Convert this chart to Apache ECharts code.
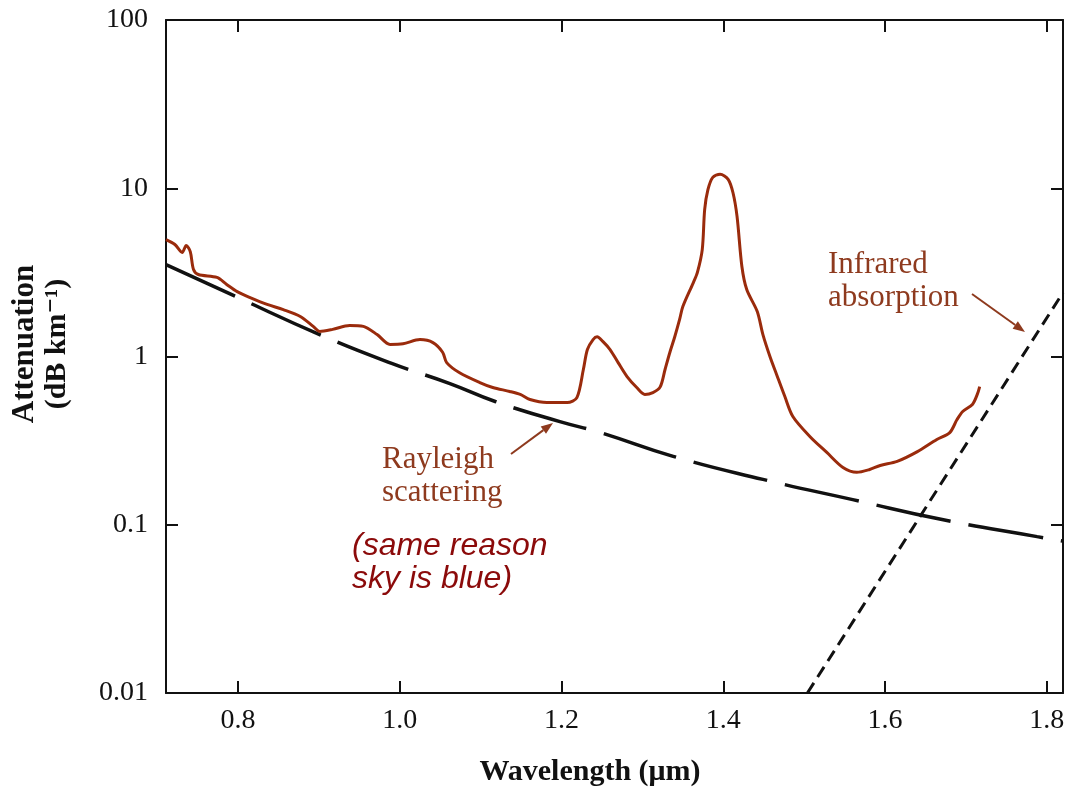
<!DOCTYPE html>
<html>
<head>
<meta charset="utf-8">
<title>Fibre attenuation</title>
<script src="https://cdn.jsdelivr.net/npm/echarts@6/dist/echarts.min.js"></script>
<style>
  html, body { margin: 0; padding: 0; background: #fff; }
  #chart { width: 1090px; height: 787px; }
</style>
</head>
<body>
<div id="chart"></div>
<script>
// measured loss of a silica fibre: [wavelength (um), attenuation (dB/km)]
const measured = [
  [0.711, 4.95], [0.722, 4.63], [0.731, 4.15], [0.736, 4.57], [0.741, 4.2],
  [0.745, 3.29], [0.751, 3.07], [0.774, 2.95], [0.786, 2.68], [0.799, 2.43],
  [0.815, 2.24], [0.836, 2.04], [0.856, 1.90], [0.877, 1.73], [0.893, 1.51],
  [0.901, 1.41], [0.917, 1.45], [0.938, 1.53], [0.955, 1.51], [0.972, 1.35],
  [0.988, 1.18], [1.004, 1.19], [1.025, 1.26], [1.041, 1.21], [1.053, 1.06],
  [1.058, 0.92], [1.074, 0.80], [1.099, 0.70], [1.115, 0.654], [1.136, 0.62],
  [1.149, 0.595], [1.161, 0.555], [1.182, 0.533], [1.207, 0.533], [1.219, 0.57],
  [1.227, 0.837], [1.232, 1.10], [1.239, 1.26], [1.244, 1.31], [1.251, 1.23],
  [1.260, 1.10], [1.270, 0.92], [1.281, 0.76], [1.293, 0.654], [1.303, 0.595],
  [1.313, 0.61], [1.322, 0.66], [1.328, 0.837], [1.334, 1.06], [1.340, 1.31],
  [1.346, 1.66], [1.350, 1.98], [1.363, 2.75], [1.368, 3.16], [1.374, 4.32],
  [1.377, 7.48], [1.381, 9.8], [1.387, 11.6], [1.396, 12.1], [1.406, 11.3],
  [1.412, 9.4], [1.417, 6.8], [1.423, 3.43], [1.429, 2.5], [1.442, 1.85],
  [1.449, 1.35], [1.458, 0.99], [1.466, 0.78], [1.476, 0.58], [1.486, 0.44],
  [1.507, 0.335], [1.528, 0.269], [1.548, 0.219], [1.565, 0.205], [1.581, 0.213],
  [1.594, 0.225], [1.615, 0.238], [1.640, 0.272], [1.664, 0.321], [1.680, 0.353],
  [1.689, 0.422], [1.696, 0.471], [1.708, 0.519], [1.714, 0.595], [1.717, 0.663]
];

// Rayleigh scattering limit (long dashes)
const rayleigh = [
  [0.711, 3.52], [0.8, 2.24], [0.901, 1.35], [0.99, 0.91], [1.062, 0.69],
  [1.118, 0.54], [1.198, 0.41], [1.248, 0.353], [1.338, 0.255], [1.449, 0.186],
  [1.56, 0.141], [1.672, 0.107], [1.788, 0.085], [1.82, 0.080]
];

// infrared absorption tail (short dashes)
const infrared = [[1.504, 0.01], [1.82, 2.4]];

const yTickLabels = ['0.01', '0.1', '1', '10', '100'];

const serif = '"Liberation Serif", "DejaVu Serif", serif';
const curveRed = '#9a2b0c';
const noteBrown = '#8e3a1e';

function arrow(x1, y1, x2, y2, color) {
  const a = Math.atan2(y2 - y1, x2 - x1);
  const len = 12, w = 4.5;
  const bx = x2 - len * Math.cos(a), by = y2 - len * Math.sin(a);
  return {
    type: 'group',
    children: [
      { type: 'line', shape: { x1: x1, y1: y1, x2: bx, y2: by }, style: { stroke: color, lineWidth: 2 } },
      { type: 'polygon', shape: { points: [
          [x2, y2],
          [bx + w * Math.sin(a), by - w * Math.cos(a)],
          [bx - w * Math.sin(a), by + w * Math.cos(a)]
        ] }, style: { fill: color } }
    ]
  };
}

const chart = echarts.init(document.getElementById('chart'));

const axisBox = {
  axisLine: { show: true, lineStyle: { color: '#111', width: 2 } },
  axisTick: { show: true, inside: true, length: 12, lineStyle: { color: '#111', width: 2 } },
  splitLine: { show: false },
  minorTick: { show: false }
};

const option = {
  backgroundColor: '#fff',
  animation: false,
  grid: { left: 166, right: 27, top: 20, bottom: 94 },
  xAxis: [
    Object.assign({
      type: 'value', min: 0.711, max: 1.82, position: 'bottom',
      axisLabel: {
        show: true, margin: 14, fontFamily: serif, fontSize: 28, color: '#111',
        showMinLabel: false, showMaxLabel: false,
        formatter: v => v.toFixed(1)
      }
    }, axisBox),
    Object.assign({
      type: 'value', min: 0.711, max: 1.82, position: 'top',
      axisLabel: { show: false }
    }, axisBox)
  ],
  yAxis: [
    Object.assign({
      type: 'log', logBase: 10, min: 0.01, max: 100, position: 'left',
      axisLabel: {
        show: true, margin: 18, fontFamily: serif, fontSize: 28, color: '#111',
        formatter: v => yTickLabels[Math.round(Math.log10(v)) + 2]
      }
    }, axisBox),
    Object.assign({
      type: 'log', logBase: 10, min: 0.01, max: 100, position: 'right',
      axisLabel: { show: false }
    }, axisBox)
  ],
  series: [
    {
      name: 'Rayleigh scattering', type: 'line', data: rayleigh,
      smooth: true, showSymbol: false, silent: true,
      lineStyle: { color: '#111', width: 3.5, type: [76, 18], cap: 'butt' }
    },
    {
      name: 'Infrared absorption', type: 'line', data: infrared,
      showSymbol: false, silent: true,
      lineStyle: { color: '#111', width: 3, type: [12, 7], cap: 'butt' }
    },
    {
      name: 'Measured', type: 'line', data: measured,
      smooth: 0.3, showSymbol: false, silent: true,
      lineStyle: { color: curveRed, width: 3 }
    }
  ],
  graphic: [
    { type: 'text', x: 25, y: 344, rotation: Math.PI / 2,
      style: { text: 'Attenuation', font: 'bold 31px ' + serif, fill: '#111', align: 'center', verticalAlign: 'middle' } },
    { type: 'text', x: 57, y: 344, rotation: Math.PI / 2,
      style: { text: '(dB km\u207B\u00B9)', font: 'bold 30px ' + serif, fill: '#111', align: 'center', verticalAlign: 'middle' } },
    { type: 'text', x: 590, y: 772,
      style: { text: 'Wavelength (\u03BCm)', font: 'bold 30px ' + serif, fill: '#111', align: 'center', verticalAlign: 'middle' } },
    { type: 'text', x: 382, y: 476,
      style: { text: 'Rayleigh\nscattering', font: '31px ' + serif, fill: noteBrown, align: 'left', verticalAlign: 'middle', lineHeight: 33 } },
    { type: 'text', x: 828, y: 281,
      style: { text: 'Infrared\nabsorption', font: '31px ' + serif, fill: noteBrown, align: 'left', verticalAlign: 'middle', lineHeight: 33 } },
    { type: 'text', x: 352, y: 563,
      style: { text: '(same reason\nsky is blue)', font: 'italic 32px "Liberation Sans", Arial, sans-serif', fill: '#8b0a0a', align: 'left', verticalAlign: 'middle', lineHeight: 33 } },
    arrow(511, 454, 553, 423, noteBrown),
    arrow(972, 294, 1025, 332, noteBrown)
  ]
};

chart.setOption(option);
</script>
</body>
</html>
